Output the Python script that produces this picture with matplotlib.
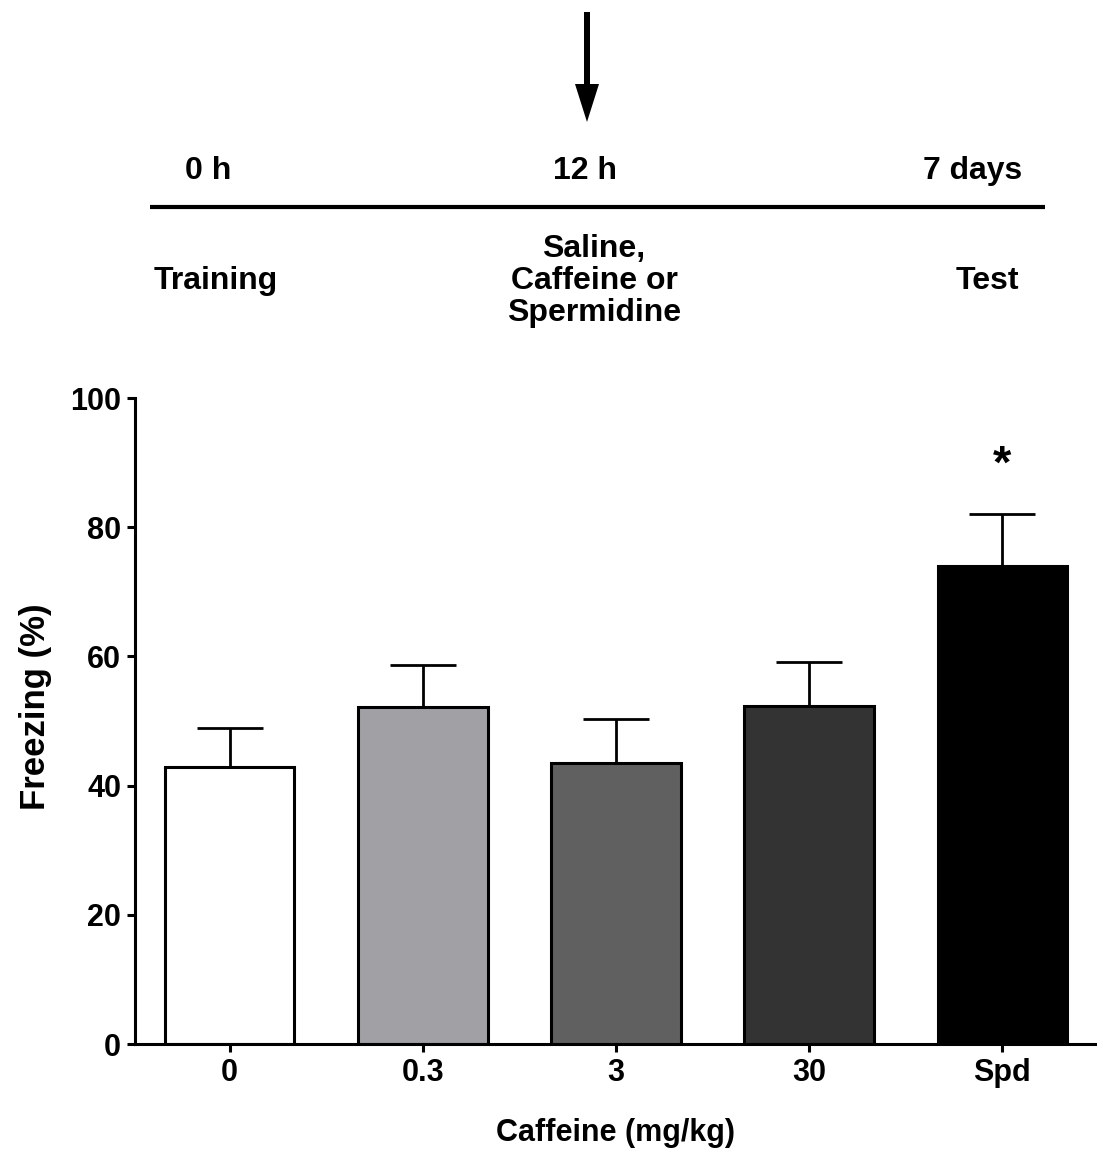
import matplotlib.pyplot as plt
from matplotlib.patches import FancyArrow

plt.rcParams['font.family'] = ['Liberation Sans', 'DejaVu Sans']
plt.rcParams['font.weight'] = 'bold'

groups = ['0', '0.3', '3', '30', 'Spd']
freezing = [42.9, 52.2, 43.5, 52.3, 74.0]
sem = [6.0, 6.5, 6.8, 6.8, 8.0]
colors = ['#ffffff', '#a1a0a5', '#606060', '#333333', '#000000']
stars = ['', '', '', '', '*']

W, H = 1097, 1151
fig = plt.figure(figsize=(W / 100, H / 100), dpi=100)

# timeline drawn in pixel coordinates on an invisible overlay
top = fig.add_axes([0, 0, 1, 1])
top.set_xlim(0, W)
top.set_ylim(H, 0)
top.axis('off')
top.plot([150, 1045], [207, 207], color='black', lw=3, solid_capstyle='butt')
top.add_patch(FancyArrow(587, 12, 0, 110, width=6, head_width=24, head_length=38,
                         length_includes_head=True, color='black', lw=0))
fs = 23
top.text(208, 171, '0 h', ha='center', va='center', fontsize=fs, fontweight='bold')
top.text(585, 171, '12 h', ha='center', va='center', fontsize=fs, fontweight='bold')
top.text(973, 171, '7 days', ha='center', va='center', fontsize=fs, fontweight='bold')
top.text(216, 281, 'Training', ha='center', va='center', fontsize=fs, fontweight='bold')
top.text(594, 281, 'Saline,\nCaffeine or\nSpermidine', ha='center', va='center',
         fontsize=fs, fontweight='bold', linespacing=1.1)
top.text(987, 281, 'Test', ha='center', va='center', fontsize=fs, fontweight='bold')

# bar chart
ax = fig.add_axes([135 / W, (H - 1044) / H, (W - 135) / W, (1044 - 398) / H])
x = list(range(len(groups)))
ax.errorbar(x, freezing, yerr=[[0] * len(sem), sem], fmt='none', ecolor='black',
            elinewidth=2, capsize=24, capthick=2, zorder=1)
ax.bar(x, freezing, width=0.67, color=colors, edgecolor='black', linewidth=2.2, zorder=2)
for xi, m, s, st in zip(x, freezing, sem, stars):
    if st:
        ax.text(xi, m + s + 7.5, st, ha='center', va='center', fontsize=34, fontweight='bold')

ax.set_xlim(-0.49, 4.49)
ax.set_ylim(0, 100)
ax.set_yticks(range(0, 101, 20))
ax.set_xticks(x)
ax.set_xticklabels(groups)
ax.spines['top'].set_visible(False)
ax.spines['right'].set_visible(False)
for sp in ['left', 'bottom']:
    ax.spines[sp].set_linewidth(2.2)
ax.tick_params(axis='both', width=2.2, length=6, labelsize=22, pad=4)
for lab in ax.get_xticklabels() + ax.get_yticklabels():
    lab.set_fontweight('bold')
ax.set_ylabel('Freezing (%)', fontsize=25, fontweight='bold')
ax.yaxis.set_label_coords(-0.086, 0.522)
ax.set_xlabel('Caffeine (mg/kg)', fontsize=22, fontweight='bold', labelpad=22)
ax.patch.set_alpha(0)

fig.savefig('out.png', dpi=100)
